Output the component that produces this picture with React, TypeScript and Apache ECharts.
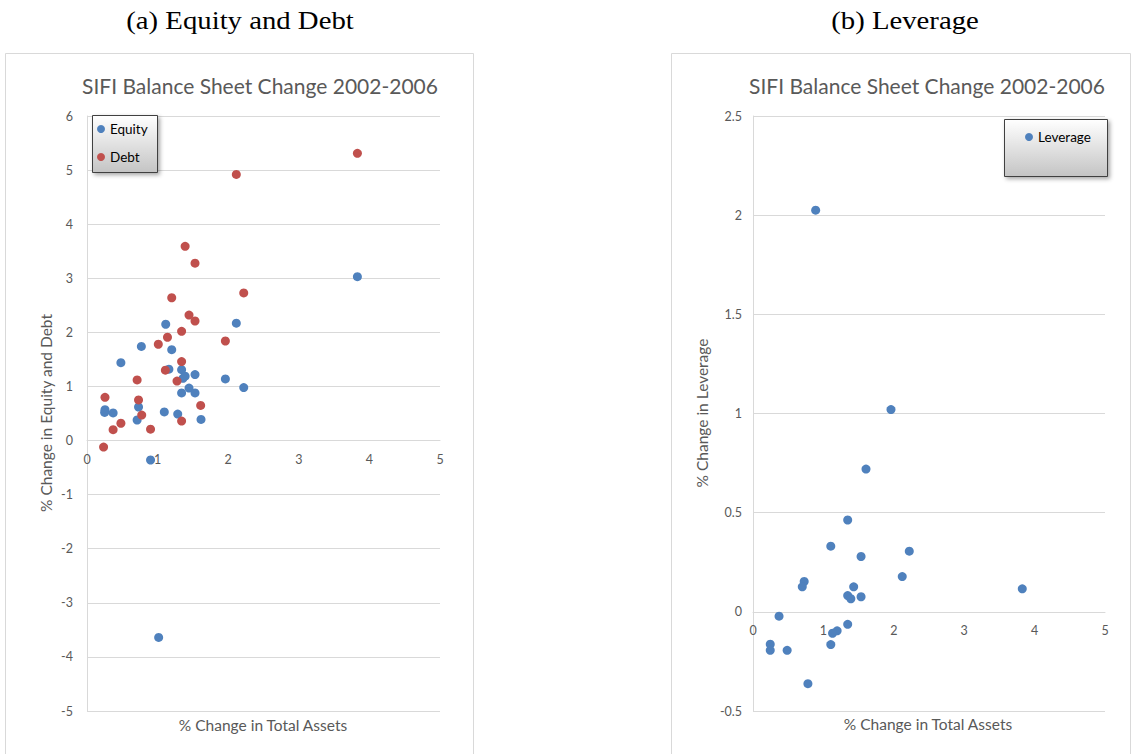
import React, { useEffect, useRef } from "react";
import * as echarts from "echarts";

// % change in total assets vs % change in equity, per institution
const equityPoints: [number, number][] = [
  [3.83, 3.03], [1.115, 2.15], [2.115, 2.17], [0.77, 1.74], [1.2, 1.68],
  [0.48, 1.44], [1.34, 1.31], [1.16, 1.32], [1.36, 1.15], [1.39, 1.19],
  [1.53, 1.22], [1.96, 1.14], [2.22, 0.98], [1.445, 0.97], [1.34, 0.88],
  [1.53, 0.88], [0.73, 0.62], [0.255, 0.57], [0.25, 0.52], [0.37, 0.51],
  [1.095, 0.53], [1.285, 0.49], [0.71, 0.38], [1.615, 0.39], [0.9, -0.36],
  [1.015, -3.64],
];

// % change in total assets vs % change in debt
const debtPoints: [number, number][] = [
  [3.83, 5.31], [2.115, 4.92], [1.39, 3.59], [1.53, 3.28], [1.2, 2.64],
  [2.22, 2.73], [1.445, 2.32], [1.53, 2.21], [1.34, 2.02], [1.96, 1.84],
  [1.01, 1.78], [1.14, 1.91], [1.34, 1.46], [1.11, 1.3], [1.275, 1.1],
  [0.71, 1.12], [0.255, 0.8], [0.73, 0.75], [1.61, 0.65], [0.775, 0.47],
  [1.34, 0.36], [0.48, 0.32], [0.37, 0.2], [0.9, 0.21], [0.235, -0.12],
];

// % change in total assets vs % change in leverage
const leveragePoints: [number, number][] = [
  [0.89, 2.025], [1.96, 1.02], [1.605, 0.72], [1.345, 0.463], [1.105, 0.331],
  [2.22, 0.306], [1.535, 0.279], [2.12, 0.178], [0.727, 0.153], [0.7, 0.126],
  [1.43, 0.126], [3.825, 0.116], [1.345, 0.082], [1.39, 0.066], [1.535, 0.076],
  [0.37, -0.022], [1.345, -0.063], [1.195, -0.096], [1.13, -0.108], [0.245, -0.163],
  [0.245, -0.194], [0.485, -0.194], [1.105, -0.165], [0.78, -0.362],
];

// axis ranges
const assetsRange = { min: 0, max: 5, interval: 1 };
const equityDebtRange = { min: -5, max: 6, interval: 1 };
const leverageRange = { min: -0.5, max: 2.5, interval: 0.5 };

const chartTitle = "SIFI Balance Sheet Change 2002-2006";
const panelCaptions = ["(a) Equity and Debt", "(b) Leverage"];
const xAxisTitle = "% Change in Total Assets";
const yAxisTitles = ["% Change in Equity and Debt", "% Change in Leverage"];

const FONT = "Lato, 'Open Sans', sans-serif";
const SERIF = "'Liberation Serif', 'DejaVu Serif', serif";
const BLUE = "#4F81BD";
const RED = "#C0504D";
const TEXT = "#595959";
const GRID = "#d9d9d9";

const PLOT_TOP = 116;
const PLOT_HEIGHT = 595;

const legendBox = (x: number, y: number, w: number, h: number) => ({
  type: "rect",
  z: 3,
  shape: { x: x + 0.5, y: y + 0.5, width: w, height: h },
  style: {
    fill: new echarts.graphic.LinearGradient(0, 0, 0, 1, [
      { offset: 0, color: "#ffffff" },
      { offset: 1, color: "#c4c4c4" },
    ]),
    stroke: "#404040",
    lineWidth: 1,
    shadowBlur: 4,
    shadowOffsetX: 2,
    shadowOffsetY: 2,
    shadowColor: "rgba(0,0,0,0.35)",
  },
});

const text = (
  x: number,
  y: number,
  str: string,
  size: number,
  color: string,
  family: string,
  rotation = 0,
  scaleX = 1
) => ({
  type: "text",
  x,
  y,
  rotation,
  scaleX,
  z: 5,
  style: {
    text: str,
    fontSize: size,
    fontFamily: family,
    fill: color,
    align: "center",
    verticalAlign: "middle",
  },
});

// the value axis crosses the vertical axis at zero: shift it up from the grid bottom
const zeroOffset = (range: { min: number; max: number }) =>
  -PLOT_HEIGHT * ((0 - range.min) / (range.max - range.min));

const xAxisCfg = (gridIndex: number, yRange: { min: number; max: number }) => ({
  type: "value",
  gridIndex,
  ...assetsRange,
  position: "bottom",
  offset: zeroOffset(yRange),
  axisLine: { show: true, onZero: false, lineStyle: { color: GRID, width: 1 } },
  axisTick: { show: false },
  splitLine: { show: false },
  axisLabel: { color: TEXT, fontSize: 12.5, fontFamily: FONT, margin: 12 },
});

const yAxisCfg = (
  gridIndex: number,
  range: { min: number; max: number; interval: number },
  margin: number
) => ({
  type: "value",
  gridIndex,
  ...range,
  axisLine: { show: true, onZero: false, lineStyle: { color: GRID, width: 1 } },
  axisTick: { show: false },
  splitLine: { show: true, lineStyle: { color: GRID, width: 1 } },
  axisLabel: { color: TEXT, fontSize: 12.5, fontFamily: FONT, margin },
});

const legendCfg = (name: string, left: number, top: number) => ({
  data: [name],
  left,
  top,
  padding: 0,
  z: 6,
  icon: "circle",
  itemWidth: 8,
  itemHeight: 8,
  selectedMode: false,
  textStyle: { fontSize: 13.5, fontFamily: FONT, color: "#000", lineHeight: 16 },
});

export default function App() {
  const ref = useRef<HTMLDivElement>(null);

  useEffect(() => {
    if (!ref.current) return;
    const chart = echarts.init(ref.current, undefined, { renderer: "svg" });

    chart.setOption({
      animation: false,
      backgroundColor: "#ffffff",
      grid: [
        { left: 87, top: PLOT_TOP, width: 353, height: PLOT_HEIGHT },
        { left: 753, top: PLOT_TOP, width: 352, height: PLOT_HEIGHT },
      ],
      xAxis: [xAxisCfg(0, equityDebtRange), xAxisCfg(1, leverageRange)],
      yAxis: [yAxisCfg(0, equityDebtRange, 14), yAxisCfg(1, leverageRange, 11)],
      legend: [
        legendCfg("Equity", 97, 121),
        legendCfg("Debt", 97, 149),
        legendCfg("Leverage", 1025, 129),
      ],
      series: [
        {
          name: "Equity",
          type: "scatter",
          xAxisIndex: 0,
          yAxisIndex: 0,
          symbolSize: 9,
          itemStyle: { color: BLUE, opacity: 1 },
          data: equityPoints,
        },
        {
          name: "Debt",
          type: "scatter",
          xAxisIndex: 0,
          yAxisIndex: 0,
          symbolSize: 9,
          itemStyle: { color: RED, opacity: 1 },
          data: debtPoints,
        },
        {
          name: "Leverage",
          type: "scatter",
          xAxisIndex: 1,
          yAxisIndex: 1,
          symbolSize: 9,
          itemStyle: { color: BLUE, opacity: 1 },
          data: leveragePoints,
        },
      ],
      graphic: [
        // panel frames
        {
          type: "rect",
          z: 0,
          silent: true,
          shape: { x: 5.5, y: 53.5, width: 468, height: 720 },
          style: { fill: "none", stroke: GRID, lineWidth: 1 },
        },
        {
          type: "rect",
          z: 0,
          silent: true,
          shape: { x: 671.5, y: 53.5, width: 459, height: 720 },
          style: { fill: "none", stroke: GRID, lineWidth: 1 },
        },
        // legend boxes
        legendBox(92, 115, 65, 57),
        legendBox(1004, 119, 103, 57),
        // captions
        text(240, 21, panelCaptions[0], 25, "#000", SERIF, 0, 1.15),
        text(905, 21, panelCaptions[1], 25, "#000", SERIF, 0, 1.15),
        // chart titles
        text(260, 85, chartTitle, 21, TEXT, FONT),
        text(927, 85, chartTitle, 21, TEXT, FONT),
        // axis titles
        text(263, 725, xAxisTitle, 15.5, TEXT, FONT),
        text(928, 724, xAxisTitle, 15.5, TEXT, FONT),
        text(46, 413, yAxisTitles[0], 15.5, TEXT, FONT, Math.PI / 2),
        text(702, 413, yAxisTitles[1], 15.5, TEXT, FONT, Math.PI / 2),
      ],
    });

    return () => chart.dispose();
  }, []);

  return (
    <div
      ref={ref}
      style={{ position: "absolute", left: 0, top: 0, width: 1139, height: 754 }}
    />
  );
}
